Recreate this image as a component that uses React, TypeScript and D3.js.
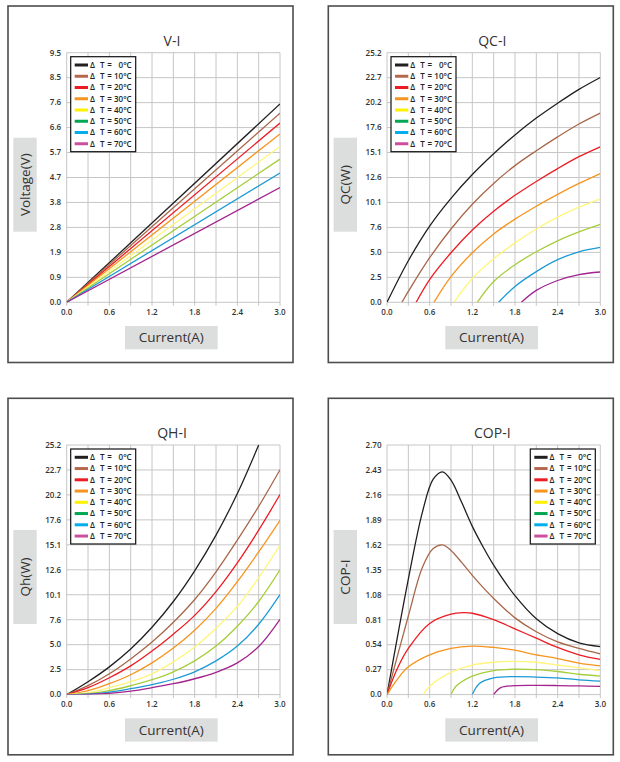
import React from "react";
import * as d3 from "d3";

// ---------- data ----------
const legendTemps = ["0°C", "10°C", "20°C", "30°C", "40°C", "50°C", "60°C", "70°C"];
const lineColors = ["#231f20", "#a8674a", "#ed1c24", "#f7941d", "#fff57a", "#a6ce39", "#1b9ad6", "#a3248f"];
const legendColors = ["#231f20", "#b5684c", "#ed1c24", "#f7941d", "#fff200", "#00a651", "#00aeef", "#cc4f9f"];

const currentTicks = ["0.0", "0.6", "1.2", "1.8", "2.4", "3.0"];
const vTicks = ["0.0", "0.9", "1.9", "2.8", "3.8", "4.7", "5.7", "6.6", "7.6", "8.5", "9.5"];
const qTicks = ["0.0", "2.5", "5.0", "7.6", "10.1", "12.6", "15.1", "17.6", "20.2", "22.7", "25.2"];
const copTicks = ["0.0", "0.27", "0.54", "0.81", "1.08", "1.35", "1.62", "1.89", "2.16", "2.43", "2.70"];

// V-I (current A, voltage V)
const vi0 = [[0, 0], [3.0, 7.55]];
const vi10 = [[0, 0], [3.0, 7.2]];
const vi20 = [[0, 0], [3.0, 6.82]];
const vi30 = [[0, 0], [3.0, 6.41]];
const vi40 = [[0, 0], [3.0, 5.93]];
const vi50 = [[0, 0], [3.0, 5.45]];
const vi60 = [[0, 0], [3.0, 4.92]];
const vi70 = [[0, 0], [3.0, 4.37]];

// QC-I (current A, QC W)
const qc0 = [[0, 0], [0.3, 4.2], [0.6, 7.7], [0.9, 10.5], [1.2, 12.9], [1.5, 15.0], [1.8, 16.9], [2.1, 18.6], [2.4, 20.1], [2.7, 21.5], [3.0, 22.7]];
const qc10 = [[0.21, 0], [0.3, 1.1], [0.6, 4.5], [0.9, 7.4], [1.2, 9.9], [1.5, 12.0], [1.8, 13.8], [2.1, 15.3], [2.4, 16.7], [2.7, 18.0], [3.0, 19.1]];
const qc20 = [[0.41, 0], [0.6, 2.3], [0.9, 5.0], [1.2, 7.3], [1.5, 9.2], [1.8, 10.8], [2.1, 12.2], [2.4, 13.5], [2.7, 14.7], [3.0, 15.7]];
const qc30 = [[0.66, 0], [0.9, 2.6], [1.2, 5.0], [1.5, 6.9], [1.8, 8.4], [2.1, 9.7], [2.4, 10.9], [2.7, 12.0], [3.0, 13.0]];
const qc40 = [[0.94, 0], [1.2, 2.4], [1.5, 4.4], [1.8, 6.0], [2.1, 7.4], [2.4, 8.6], [2.7, 9.6], [3.0, 10.45]];
const qc50 = [[1.27, 0], [1.5, 2.1], [1.8, 3.8], [2.1, 5.1], [2.4, 6.2], [2.7, 7.1], [3.0, 7.86]];
const qc60 = [[1.57, 0], [1.8, 1.6], [2.1, 3.1], [2.4, 4.3], [2.7, 5.1], [3.0, 5.54]];
const qc70 = [[1.89, 0], [2.1, 1.2], [2.4, 2.2], [2.7, 2.8], [3.0, 3.06]];

// QH-I (current A, Qh W)
const qh0 = [[0, 0], [0.3, 1.3], [0.6, 2.8], [0.9, 4.6], [1.2, 6.8], [1.5, 9.4], [1.8, 12.5], [2.1, 16.1], [2.4, 20.3], [2.7, 25.2]];
const qh10 = [[0, 0], [0.3, 0.9], [0.6, 2.1], [0.9, 3.6], [1.2, 5.3], [1.5, 7.3], [1.8, 9.6], [2.1, 12.4], [2.4, 15.6], [2.7, 19.0], [3.0, 22.7]];
const qh20 = [[0, 0], [0.3, 0.7], [0.6, 1.7], [0.9, 2.9], [1.2, 4.4], [1.5, 6.1], [1.8, 8.0], [2.1, 10.4], [2.4, 13.3], [2.7, 16.6], [3.0, 20.2]];
const qh30 = [[0, 0], [0.3, 0.4], [0.6, 1.1], [0.9, 2.0], [1.2, 3.2], [1.5, 4.7], [1.8, 6.5], [2.1, 8.7], [2.4, 11.4], [2.7, 14.4], [3.0, 17.6]];
const qh40 = [[0, 0], [0.3, 0.2], [0.6, 0.7], [0.9, 1.3], [1.2, 2.1], [1.5, 3.3], [1.8, 4.8], [2.1, 6.7], [2.4, 8.9], [2.7, 11.8], [3.0, 15.1]];
const qh50 = [[0, 0], [0.3, 0.1], [0.6, 0.4], [0.9, 0.9], [1.2, 1.5], [1.5, 2.3], [1.8, 3.4], [2.1, 4.9], [2.4, 6.9], [2.7, 9.4], [3.0, 12.6]];
const qh60 = [[0, 0], [0.3, 0.05], [0.6, 0.25], [0.9, 0.6], [1.2, 1.0], [1.5, 1.55], [1.8, 2.3], [2.1, 3.4], [2.4, 4.9], [2.7, 7.1], [3.0, 10.1]];
const qh70 = [[0, 0], [0.3, 0.02], [0.6, 0.12], [0.9, 0.35], [1.2, 0.7], [1.5, 1.1], [1.8, 1.6], [2.1, 2.25], [2.4, 3.2], [2.7, 4.85], [3.0, 7.6]];

// COP-I (current A, COP)
const cop0 = [[0, 0], [0.3, 1.25], [0.5, 1.98], [0.65, 2.33], [0.78, 2.41], [0.9, 2.32], [1.05, 2.08], [1.2, 1.82], [1.35, 1.60], [1.5, 1.40], [1.8, 1.07], [2.1, 0.82], [2.4, 0.66], [2.7, 0.56], [3.0, 0.52]];
const cop10 = [[0, 0], [0.3, 0.85], [0.5, 1.38], [0.65, 1.58], [0.78, 1.62], [0.9, 1.56], [1.05, 1.43], [1.2, 1.29], [1.35, 1.16], [1.5, 1.04], [1.8, 0.83], [2.1, 0.68], [2.4, 0.57], [2.7, 0.50], [3.0, 0.44]];
const cop20 = [[0, 0], [0.15, 0.29], [0.3, 0.50], [0.6, 0.77], [0.9, 0.87], [1.08, 0.886], [1.2, 0.88], [1.5, 0.81], [1.8, 0.71], [2.1, 0.61], [2.4, 0.51], [2.7, 0.43], [3.0, 0.38]];
const cop30 = [[0, 0], [0.15, 0.17], [0.3, 0.30], [0.6, 0.43], [0.9, 0.50], [1.2, 0.524], [1.5, 0.51], [1.8, 0.48], [2.1, 0.43], [2.4, 0.39], [2.7, 0.34], [3.0, 0.31]];
const cop40 = [[0.51, 0], [0.6, 0.09], [0.9, 0.24], [1.2, 0.32], [1.5, 0.35], [1.75, 0.36], [2.1, 0.35], [2.4, 0.32], [2.7, 0.29], [3.0, 0.26]];
const cop50 = [[0.9, 0], [0.97, 0.09], [1.2, 0.2], [1.5, 0.26], [1.8, 0.275], [2.1, 0.27], [2.4, 0.25], [2.7, 0.22], [3.0, 0.20]];
const cop60 = [[1.2, 0], [1.3, 0.12], [1.5, 0.18], [1.8, 0.195], [2.1, 0.19], [2.4, 0.18], [2.7, 0.16], [3.0, 0.145]];
const cop70 = [[1.5, 0], [1.6, 0.075], [1.8, 0.097], [2.1, 0.1], [2.4, 0.098], [2.7, 0.094], [3.0, 0.09]];

const viSeries = [vi0, vi10, vi20, vi30, vi40, vi50, vi60, vi70];
const qcSeries = [qc0, qc10, qc20, qc30, qc40, qc50, qc60, qc70];
const qhSeries = [qh0, qh10, qh20, qh30, qh40, qh50, qh60, qh70];
const copSeries = [cop0, cop10, cop20, cop30, cop40, cop50, cop60, cop70];

// ---------- drawing ----------
const FONT = "'Open Sans', 'Noto Sans', sans-serif";

type PanelProps = {
  id: string;
  ox: number;
  oy: number;
  title: string;
  yLabel: string;
  yTicks: string[];
  yMax: number;
  series: number[][][];
  legendRight?: boolean;
};

function Panel({ id, ox, oy, title, yLabel, yTicks, yMax, series, legendRight }: PanelProps) {
  const pl = ox + 58.7;
  const pr = ox + 272;
  const pt = oy + 46.7;
  const pb = oy + 296.3;
  const x = d3.scaleLinear().domain([0, 3]).range([pl, pr]);
  const y = d3.scaleLinear().domain([0, yMax]).range([pb, pt]);
  const line = d3
    .line<number[]>()
    .x((d) => x(d[0]))
    .y((d) => y(d[1]))
    .curve(d3.curveCatmullRom.alpha(0.5));
  const xGrid = d3.range(0, 11).map((i) => i * 0.3);
  const yGrid = yTicks.map((_, i) => (i * yMax) / (yTicks.length - 1));

  const lgW = 65;
  const lgH = 95;
  const lgX = legendRight ? pr - 5 - lgW : pl + 4;
  const lgY = pt + 4;

  return (
    <g>
      <rect x={ox} y={oy} width={285} height={356.5} fill="#fff" stroke="#4d4d4d" strokeWidth={1.6} />
      <text x={ox + 164} y={oy + 40} textAnchor="middle" fontFamily={FONT} fontSize={14} fill="#333">
        {title}
      </text>
      {/* grid */}
      {yGrid.map((v, i) => (
        <line key={"h" + i} x1={pl} x2={pr} y1={y(v)} y2={y(v)} stroke="#c6c6c6" strokeWidth={1} />
      ))}
      {xGrid.map((v, i) => (
        <line key={"v" + i} x1={x(v)} x2={x(v)} y1={pt} y2={pb + 3.5} stroke="#c6c6c6" strokeWidth={1} />
      ))}
      {/* y tick labels */}
      {yTicks.map((t, i) => (
        <text
          key={"yt" + i}
          x={pl - 5.5}
          y={y(yGrid[i])}
          dy="0.35em"
          textAnchor="end"
          fontFamily={FONT}
          fontWeight={600}
          fontSize={8}
          fill="#333"
        >
          {t}
        </text>
      ))}
      {/* x tick labels */}
      {currentTicks.map((t) => (
        <text
          key={"xt" + t}
          x={x(+t)}
          y={pb + 12.5}
          textAnchor="middle"
          fontFamily={FONT}
          fontWeight={600}
          fontSize={8}
          fill="#333"
        >
          {t}
        </text>
      ))}
      {/* series */}
      <clipPath id={"clip-" + id}>
        <rect x={pl} y={pt - 1} width={pr - pl} height={pb - pt + 1} />
      </clipPath>
      <g clipPath={`url(#clip-${id})`}>
        {series.map((s, i) => (
          <path key={"s" + i} d={line(s) || ""} fill="none" stroke={lineColors[i]} strokeWidth={1.3} />
        ))}
      </g>
      {/* y label */}
      <rect x={ox + 5.3} y={oy + 131.7} width={23.4} height={94} fill="#dcdddd" />
      <text
        transform={`translate(${ox + 17},${oy + 178.7}) rotate(-90)`}
        dy="0.36em"
        textAnchor="middle"
        fontFamily={FONT}
        fontSize={13.5}
        fill="#333"
      >
        {yLabel}
      </text>
      {/* x label */}
      <rect x={ox + 117} y={oy + 320} width={92.7} height={23.3} fill="#dcdddd" />
      <text
        x={ox + 163.3}
        y={oy + 331.6}
        dy="0.36em"
        textAnchor="middle"
        fontFamily={FONT}
        fontSize={13.5}
        fill="#333"
      >
        Current(A)
      </text>
      {/* legend */}
      <rect x={lgX} y={lgY} width={lgW} height={lgH} fill="#fff" stroke="#111" strokeWidth={1.2} />
      {legendTemps.map((t, i) => {
        const ry = lgY + 8.3 + i * 11.25;
        return (
          <g key={"lg" + i}>
            <line x1={lgX + 4} x2={lgX + 17.3} y1={ry} y2={ry} stroke={legendColors[i]} strokeWidth={3} />
            <text x={lgX + 19.3} y={ry} dy="0.35em" fontFamily={FONT} fontWeight={600} fontSize={8} fill="#222">
              Δ
            </text>
            <text x={lgX + 29.3} y={ry} dy="0.35em" fontFamily={FONT} fontWeight={600} fontSize={8} fill="#222">
              T
            </text>
            <text x={lgX + 36.6} y={ry} dy="0.35em" fontFamily={FONT} fontWeight={600} fontSize={8} fill="#222">
              =
            </text>
            <text
              x={lgX + 61}
              y={ry}
              dy="0.35em"
              textAnchor="end"
              fontFamily={FONT}
              fontWeight={600}
              fontSize={8}
              fill="#222"
            >
              {t}
            </text>
          </g>
        );
      })}
    </g>
  );
}

export default function App() {
  return (
    <svg width={620} height={762} style={{ position: "absolute", left: 0, top: 0, background: "#fff" }}>
      <rect x={0} y={0} width={620} height={762} fill="#fff" />
      <Panel id="vi" ox={8} oy={6} title="V-I" yLabel="Voltage(V)" yTicks={vTicks} yMax={9.5} series={viSeries} />
      <Panel id="qc" ox={328.3} oy={6} title="QC-I" yLabel="QC(W)" yTicks={qTicks} yMax={25.2} series={qcSeries} />
      <Panel id="qh" ox={8} oy={398.3} title="QH-I" yLabel="Qh(W)" yTicks={qTicks} yMax={25.2} series={qhSeries} />
      <Panel
        id="cop"
        ox={328.3}
        oy={398.3}
        title="COP-I"
        yLabel="COP-I"
        yTicks={copTicks}
        yMax={2.7}
        series={copSeries}
        legendRight
      />
    </svg>
  );
}
